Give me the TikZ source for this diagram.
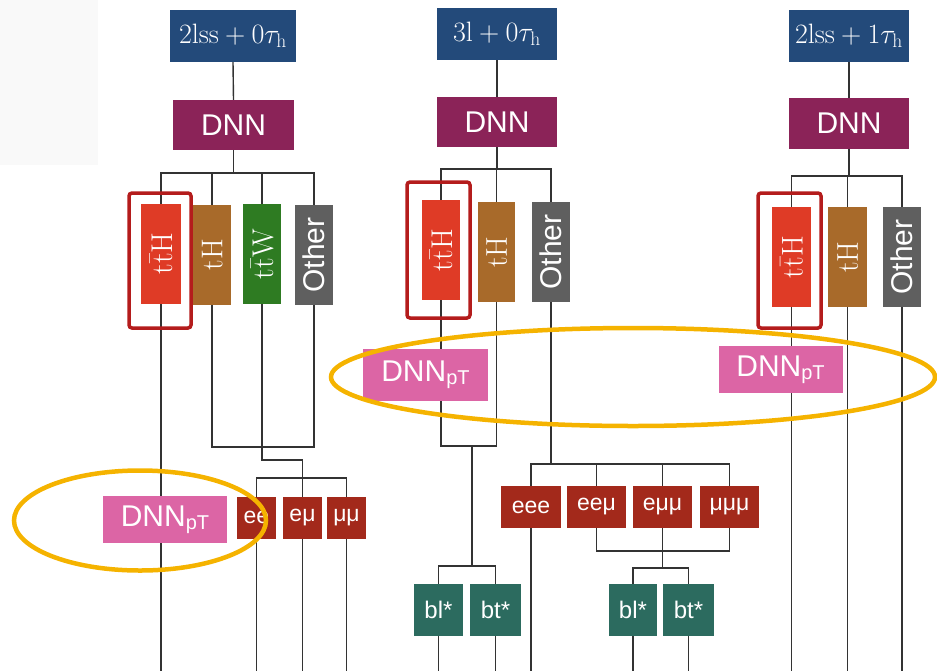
\RequirePackage{fix-cm}
\documentclass[tikz,border=0pt]{standalone}
\usepackage[no-math]{fontspec}
\setsansfont{Liberation Sans}
\usepackage{graphicx}
\usetikzlibrary{backgrounds}

\definecolor{cblue}{HTML}{234A7A}
\definecolor{cpurple}{HTML}{8B2358}
\definecolor{cred}{HTML}{DF3B26}
\definecolor{cbrown}{HTML}{A86A2A}
\definecolor{cgreen}{HTML}{2E7B22}
\definecolor{cgray}{HTML}{5F5F5F}
\definecolor{clep}{HTML}{A3291B}
\definecolor{cteal}{HTML}{2C6B5F}
\definecolor{cpink}{HTML}{DC65A5}
\definecolor{corange}{HTML}{F5B300}
\definecolor{cframe}{HTML}{B41C1C}
\definecolor{cline}{HTML}{333333}
\definecolor{cbg}{HTML}{F9F9F9}

\newcommand\vlabel[1]{\rotatebox{90}{#1}}
\newcommand\dnnpt{DNN\raisebox{-3pt}{\fontsize{20}{20}\selectfont pT}}

\begin{document}
\begin{tikzpicture}[x=1pt,y=-1pt,
  tile/.style={inner sep=0pt, outer sep=0pt, text=white,
    font=\sffamily\fontsize{30}{30}\selectfont},
  toptile/.style={tile, fill=cblue, minimum width=120pt, minimum height=52pt,
    font=\fontsize{28}{28}\selectfont},
  dnntile/.style={tile, fill=cpurple, minimum width=120pt, minimum height=50pt},
  vtile/.style={tile, minimum width=38pt, minimum height=100pt},
  ptile/.style={tile, fill=cpink, minimum width=124pt, minimum height=47pt},
  ltile/.style={tile, fill=clep, minimum width=39pt, minimum height=42pt,
    font=\sffamily\fontsize{23}{23}\selectfont},
  btile/.style={tile, fill=cteal, minimum width=50pt, minimum height=52pt,
    font=\sffamily\fontsize{24}{24}\selectfont},
  conn/.style={draw=cline, line width=1.4pt},
  hilite/.style={draw=cframe, line width=3.5pt, rounded corners=3pt},
  halo/.style={draw=corange, line width=4.5pt}]
\useasboundingbox (0,0) rectangle (937,670);
\coordinate (bot) at (0,672);

% ---------- column 1: 2lss + 0 tau_h ----------
\node[toptile, minimum width=126pt] (top1) at (233,36) {$2\mathrm{lss}+0\tau_{\mathrm{h}}$};
\node[dnntile, minimum width=121pt] (dnn1) at (233.5,125) {DNN};
\node[vtile, fill=cred, minimum width=40pt] (c1tth) at (161,253.5) {\vlabel{$\mathrm{t\bar{t}H}$}};
\node[vtile, fill=cbrown] (c1th) at (212,254.5) {\vlabel{$\mathrm{tH}$}};
\node[vtile, fill=cgreen] (c1ttw) at (262,254) {\vlabel{$\mathrm{t\bar{t}W}$}};
\node[vtile, fill=cgray] (c1oth) at (314,255) {\vlabel{Other}};
\node[ptile] (pt1) at (165,519.5) {\dnnpt};
\node[ltile] (ee) at (256.5,517.5) {ee};
\node[ltile] (emu) at (302.5,517.5) {eμ};
\node[ltile] (mumu) at (346.5,517.5) {μμ};

% ---------- column 2: 3l + 0 tau_h ----------
\node[toptile] (top2) at (497,34) {$3\mathrm{l}+0\tau_{\mathrm{h}}$};
\node[dnntile] (dnn2) at (497,122) {DNN};
\node[vtile, fill=cred] (c2tth) at (441,250) {\vlabel{$\mathrm{t\bar{t}H}$}};
\node[vtile, fill=cbrown, minimum width=37pt] (c2th) at (496.5,252) {\vlabel{$\mathrm{tH}$}};
\node[vtile, fill=cgray] (c2oth) at (551,252) {\vlabel{Other}};
\node[ptile, minimum width=125pt, minimum height=52pt] (pt2) at (425.5,375) {\dnnpt};
\node[ltile, minimum width=60pt] (eee) at (531,507) {eee};
\node[ltile, minimum width=59pt] (eemu) at (596.5,507) {eeμ};
\node[ltile, minimum width=59pt] (emumu) at (662.5,507) {eμμ};
\node[ltile, minimum width=59pt] (mumumu) at (729.5,507) {μμμ};
\node[btile, minimum width=49pt] (bla) at (438.5,610) {bl*};
\node[btile, minimum width=51pt] (bta) at (495.5,610) {bt*};
\node[btile, minimum width=48pt] (blb) at (633,610) {bl*};
\node[btile, minimum width=51pt] (btb) at (688.5,610) {bt*};

% ---------- column 3: 2lss + 1 tau_h ----------
\node[toptile] (top3) at (849,36) {$2\mathrm{lss}+1\tau_{\mathrm{h}}$};
\node[dnntile, minimum height=51pt] (dnn3) at (849,123.5) {DNN};
\node[vtile, fill=cred, minimum width=39pt] (c3tth) at (791.5,257) {\vlabel{$\mathrm{t\bar{t}H}$}};
\node[vtile, fill=cbrown, minimum width=39pt] (c3th) at (847.5,257) {\vlabel{$\mathrm{tH}$}};
\node[vtile, fill=cgray] (c3oth) at (902,257) {\vlabel{Other}};
\node[ptile] (pt3) at (780.5,369.5) {\dnnpt};

% ---------- connectors ----------
\begin{scope}[on background layer]
\fill[cbg] (0,0) rectangle (98,165);

% column 1
\coordinate (s1) at (233.5,173);
\draw[conn] (top1.south) -- (dnn1.north);
\draw[conn] (dnn1.south) -- (s1);
\foreach \n in {c1tth,c1th,c1ttw,c1oth} \draw[conn] (s1) -| (\n.north);
\draw[conn] (c1tth.south) -- (c1tth.south |- bot);
\coordinate (m1) at (262,447);
\draw[conn] (c1th.south) |- (m1) -| (c1oth.south);
\coordinate (j1) at (302.5,460);
\coordinate (s2) at (302.5,478);
\draw[conn] (c1ttw.south) |- (j1) -- (s2);
\foreach \n in {ee,emu,mumu} {
  \draw[conn] (s2) -| (\n.north);
  \draw[conn] (\n.south) -- (\n.south |- bot);
}

% column 2
\coordinate (s3) at (497,169);
\draw[conn] (top2.south) -- (dnn2.north);
\draw[conn] (dnn2.south) -- (s3);
\foreach \n in {c2tth,c2th,c2oth} \draw[conn] (s3) -| (\n.north);
\coordinate (m2) at (472,446);
\coordinate (s4) at (472,566);
\draw[conn] (c2tth.south) |- (m2) -| (c2th.south);
\draw[conn] (m2) -- (s4);
\foreach \n in {bla,bta} {
  \draw[conn] (s4) -| (\n.north);
  \draw[conn] (\n.south) -- (\n.south |- bot);
}
\coordinate (s5) at (551,464);
\draw[conn] (c2oth.south) -- (s5);
\foreach \n in {eee,eemu,emumu,mumumu} \draw[conn] (s5) -| (\n.north);
\draw[conn] (eee.south) -- (eee.south |- bot);
\coordinate (m3) at (662.5,551);
\coordinate (s6) at (662.5,568);
\draw[conn] (eemu.south) |- (m3) -| (mumumu.south);
\draw[conn] (emumu.south) -- (s6);
\foreach \n in {blb,btb} {
  \draw[conn] (s6) -| (\n.north);
  \draw[conn] (\n.south) -- (\n.south |- bot);
}

% column 3
\coordinate (s7) at (849,176);
\draw[conn] (top3.south) -- (dnn3.north);
\draw[conn] (dnn3.south) -- (s7);
\foreach \n in {c3tth,c3th,c3oth} {
  \draw[conn] (s7) -| (\n.north);
  \draw[conn] (\n.south) -- (\n.south |- bot);
}
\end{scope}

% ---------- highlights ----------
\draw[hilite] (129,193) rectangle (191,328);
\draw[hilite] (407,182) rectangle (470,318);
\draw[hilite] (758,193) rectangle (821,328);
\draw[halo] (140,520.5) ellipse [x radius=126, y radius=50];
\draw[halo] (633,377) ellipse [x radius=302, y radius=49];
\end{tikzpicture}
\end{document}
